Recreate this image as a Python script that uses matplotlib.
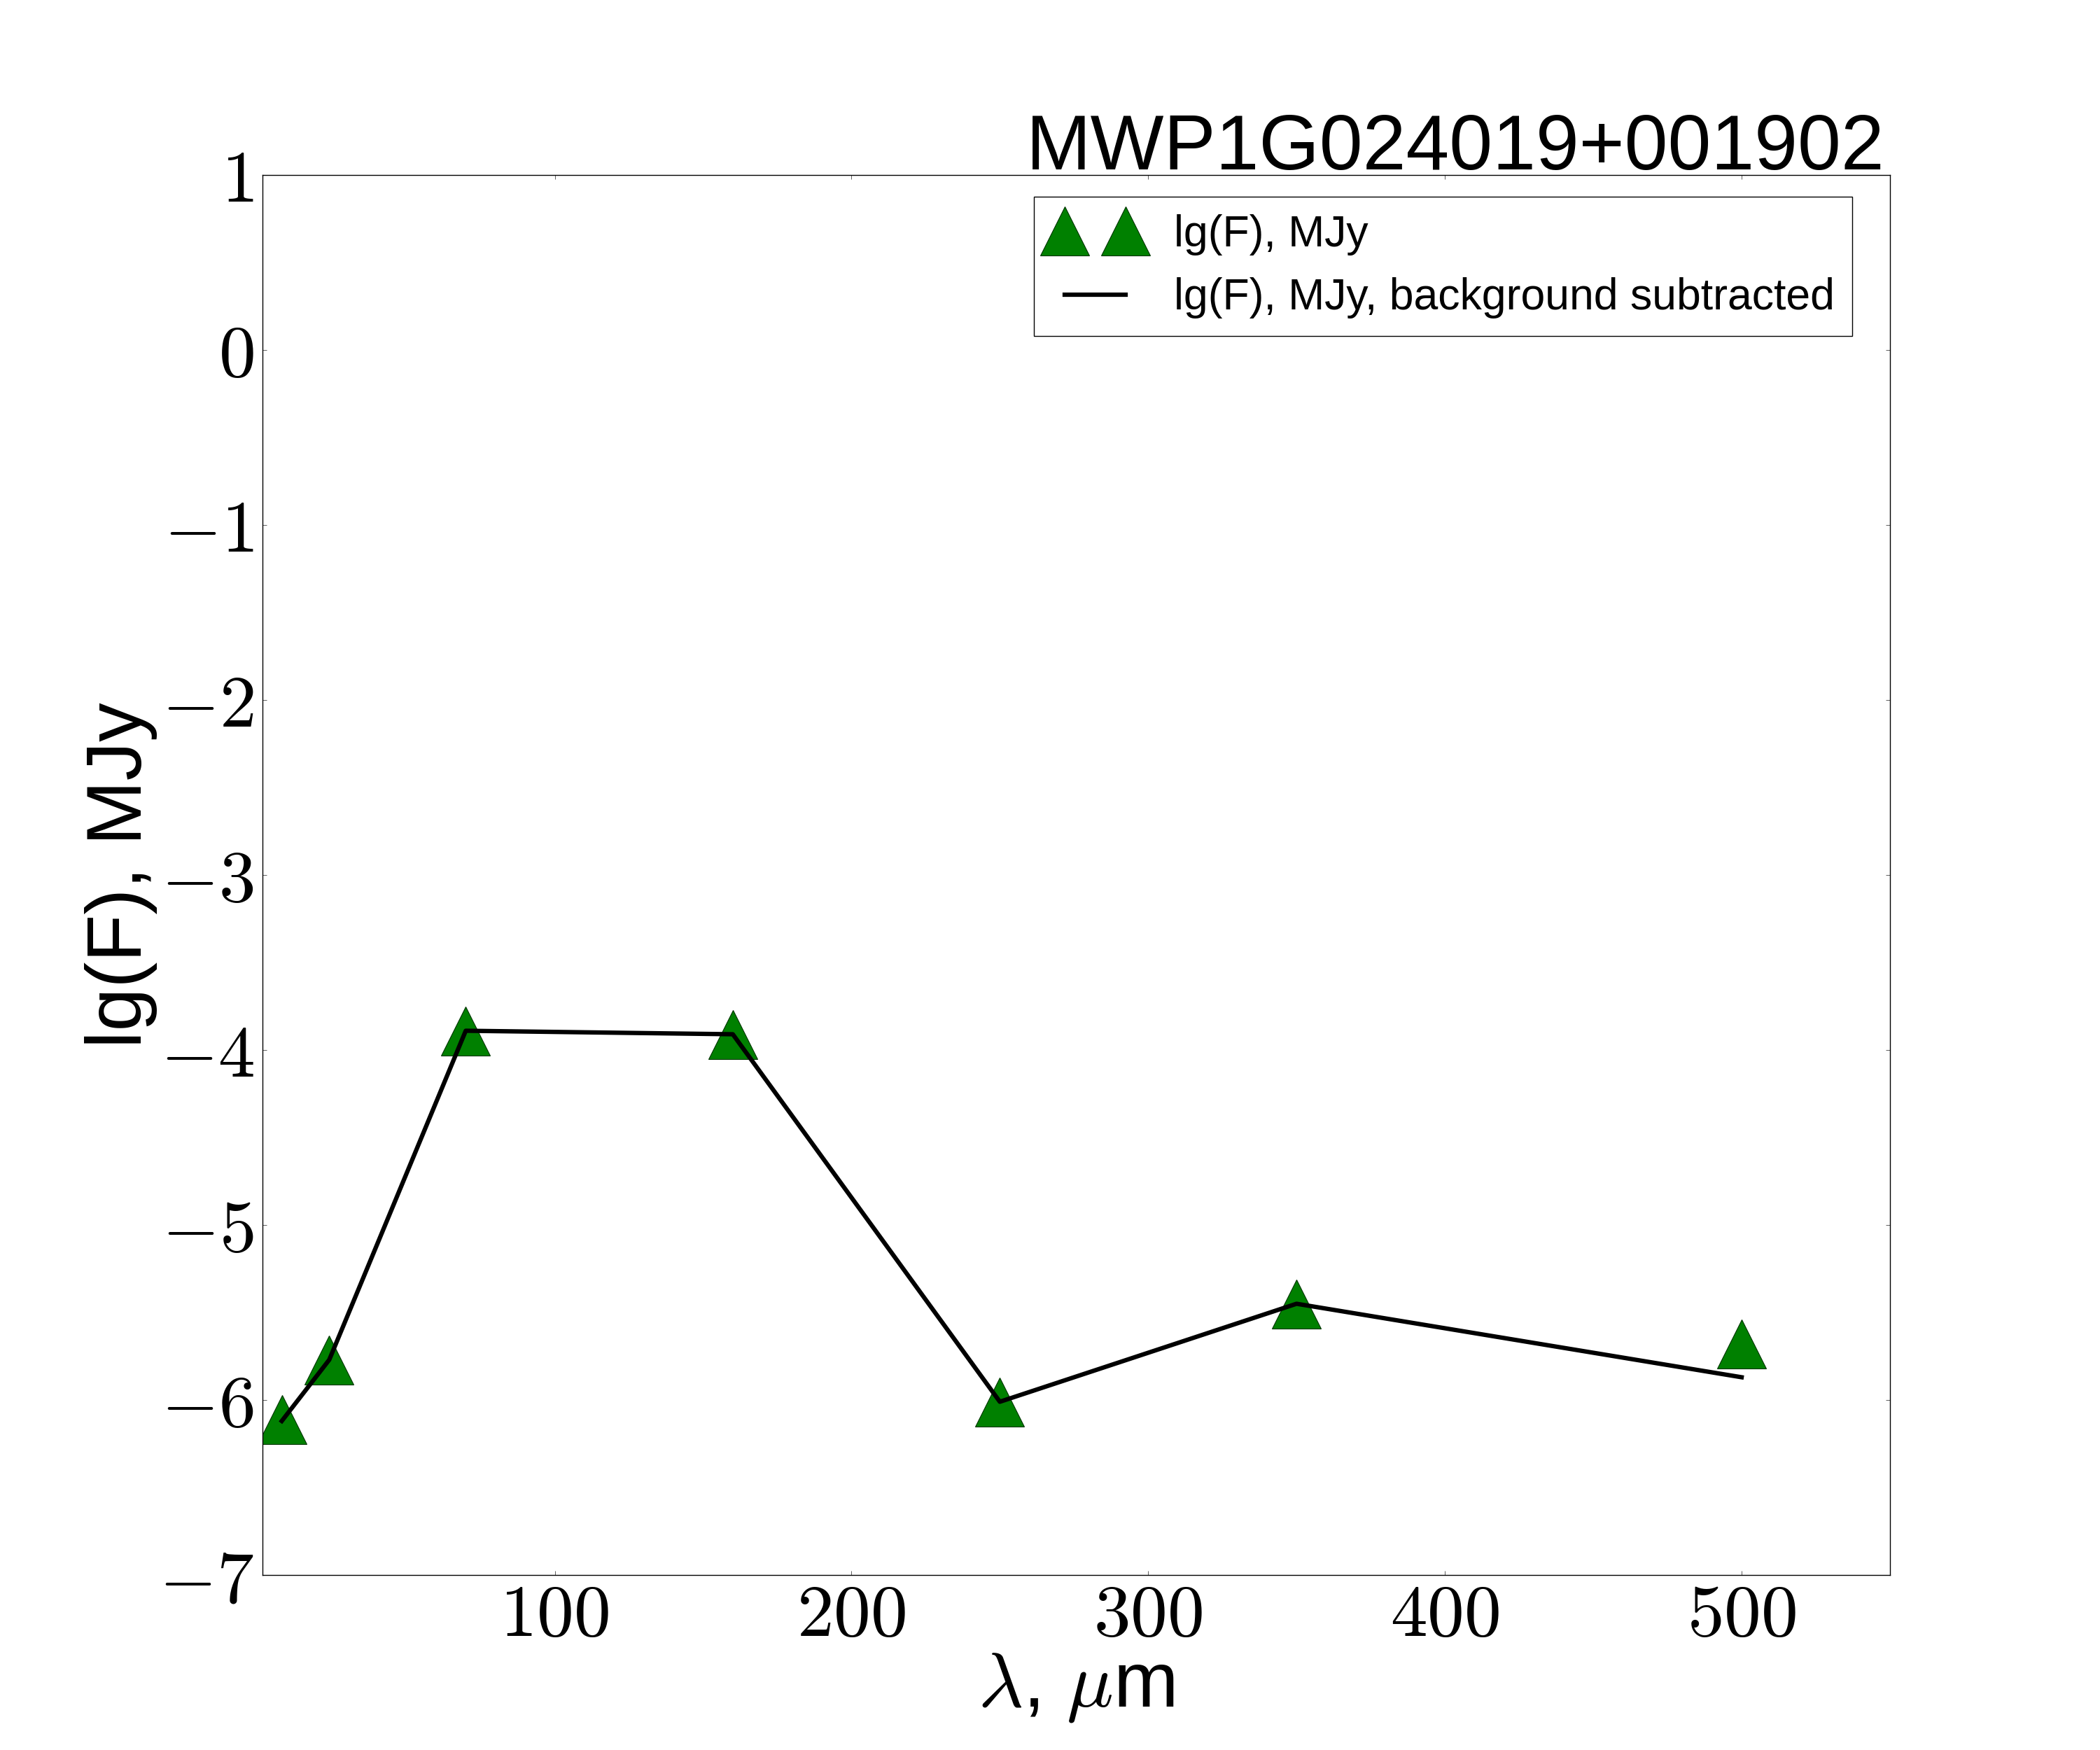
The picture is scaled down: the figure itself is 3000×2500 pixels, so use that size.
import matplotlib
matplotlib.use("Agg")
import matplotlib.pyplot as plt
from matplotlib.ticker import FuncFormatter

plt.rcParams['font.family'] = ['Liberation Sans', 'DejaVu Sans']
plt.rcParams['mathtext.fontset'] = 'cm'

# ---- data ----
title = "MWP1G024019+001902"
wavelength_um = [8, 24, 70, 160, 250, 350, 500]
lgF = [-6.11, -5.77, -3.89, -3.91, -6.01, -5.45, -5.68]
lgF_bgsub = [-6.12, -5.77, -3.89, -3.91, -6.01, -5.45, -5.87]
label_points = "lg(F), MJy"
label_line = "lg(F), MJy, background subtracted"
x_ticks = [100, 200, 300, 400, 500]
y_ticks = [-7, -6, -5, -4, -3, -2, -1, 0, 1]

fig = plt.figure(figsize=(30, 25), dpi=100)
ax = fig.add_subplot(111)
fig.subplots_adjust(left=0.125, right=0.9, bottom=0.1, top=0.9)

pts, = ax.plot(wavelength_um, lgF, linestyle='none', marker='^', markersize=50,
               color='green', markeredgecolor='#003300', markeredgewidth=0.8,
               label=label_points, zorder=2)
ln, = ax.plot(wavelength_um, lgF_bgsub, color='black', linewidth=4.5,
              label=label_line, zorder=3)

ax.set_xlim(1.5, 550)
ax.set_ylim(-7, 1)
ax.set_xticks(x_ticks)
ax.set_yticks(y_ticks)
fmt = FuncFormatter(lambda v, p: r'$%d$' % round(v))
ax.xaxis.set_major_formatter(fmt)
ax.yaxis.set_major_formatter(fmt)
ax.tick_params(axis='both', which='major', direction='in', top=True, right=True,
               length=4, width=0.6, labelsize=76, color='#444444')
ax.tick_params(axis='x', pad=7)
ax.tick_params(axis='y', pad=9)
for s in ax.spines.values():
    s.set_linewidth(1.0)
    s.set_color('black')

ax.set_xlabel(r'$\lambda$, $\mu$m', fontsize=80, labelpad=0)
ax.set_ylabel(label_points, fontsize=80, labelpad=2)

ax.text(0.9968, 1.0038, title, transform=ax.transAxes, ha='right', va='baseline',
        fontsize=80)

leg = ax.legend(handles=[pts, ln], loc='upper right', bbox_to_anchor=(0.9768, 0.9844),
                borderaxespad=0, numpoints=2, fontsize=45, fancybox=False,
                framealpha=1, edgecolor='black', handlelength=2.0)
leg.get_frame().set_linewidth(1.0)

fig.savefig('out.png', dpi=100)
